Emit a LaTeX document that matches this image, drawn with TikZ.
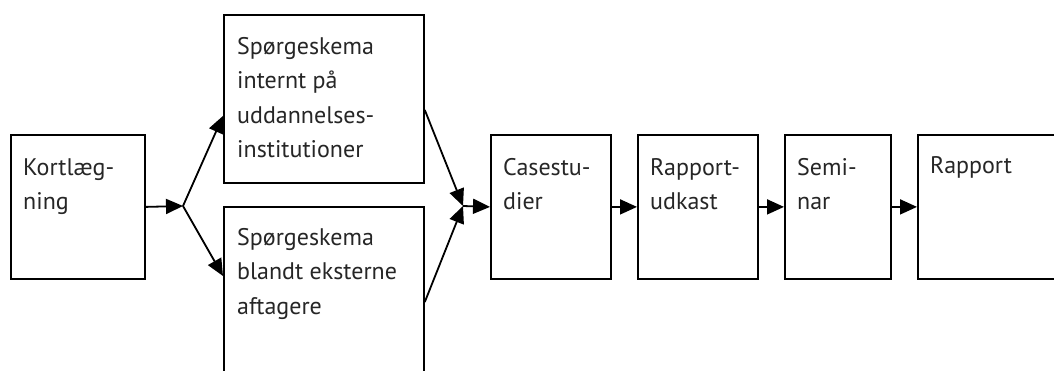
\documentclass[tikz,border=0pt]{standalone}
\usepackage{fontspec}
\setmainfont{PT Sans}
\usetikzlibrary{arrows.meta}
\tikzset{
  box/.style={draw, line width=1.8pt, rectangle, inner sep=0pt, anchor=north west},
  lbl/.style={anchor=base west, inner sep=0pt, text=black!85, font=\fontsize{24}{34.5}\selectfont},
  arr/.style={line width=1.8pt, -{Triangle[length=17pt,width=15pt]}},
  ln/.style={line width=1.8pt}
}
\newcommand{\boxtext}[1]{\parbox[t]{8cm}{\raggedright #1}}
\begin{document}
\begin{tikzpicture}[x=1pt,y=-1pt]
\useasboundingbox (0,0) rectangle (1054,370);
\clip (0,0) rectangle (1054,370);
\fill[white] (0,0) rectangle (1054,370);

\node[box, minimum width=134pt, minimum height=144pt] (k) at (10,134) {};
\node[box, minimum width=200pt, minimum height=168pt] (top) at (223,14) {};
\node[box, minimum width=200pt, minimum height=200pt] (bot) at (223,206) {};
\node[box, minimum width=120pt, minimum height=144pt] (case) at (490,134) {};
\node[box, minimum width=120pt, minimum height=144pt] (rap) at (637,134) {};
\node[box, minimum width=106pt, minimum height=144pt] (sem) at (784,134) {};
\node[box, minimum width=180pt, minimum height=144pt] (fin) at (917,134) {};

\node[lbl] (kt) at ([xshift=13pt,yshift=-41pt]k.north west) {\boxtext{Kortlæg-\\ning}};
\node[lbl] (topt) at ([xshift=14pt,yshift=-40pt]top.north west) {\boxtext{Spørgeskema\\internt på\\uddannelses-\\institutioner}};
\node[lbl] (bott) at ([xshift=14pt,yshift=-39pt]bot.north west) {\boxtext{Spørgeskema\\blandt eksterne\\aftagere}};
\node[lbl] (caset) at ([xshift=13pt,yshift=-41pt]case.north west) {\boxtext{Casestu-\\dier}};
\node[lbl] (rapt) at ([xshift=13pt,yshift=-41pt]rap.north west) {\boxtext{Rapport-\\udkast}};
\node[lbl] (semt) at ([xshift=13pt,yshift=-41pt]sem.north west) {\boxtext{Semi-\\nar}};
\node[lbl] (fint) at ([xshift=13pt,yshift=-39pt]fin.north west) {\boxtext{Rapport}};

\coordinate (j1) at (183,206);
\coordinate (j2) at (463,206);

\draw[arr] (k.east) -- (j1);
\draw[arr] (j1) -- ([yshift=-17pt]top.west);
\draw[arr] (j1) -- ([yshift=-70pt]bot.north west);
\draw[arr] ([yshift=-96pt]top.north east) -- (j2);
\draw[arr] ([yshift=-96pt]bot.north east) -- (j2);
\draw[arr] (j2) -- (case.west);
\draw[arr] (case.east) -- (rap.west);
\draw[arr] (rap.east) -- (sem.west);
\draw[arr] (sem.east) -- (fin.west);
\end{tikzpicture}
\end{document}
